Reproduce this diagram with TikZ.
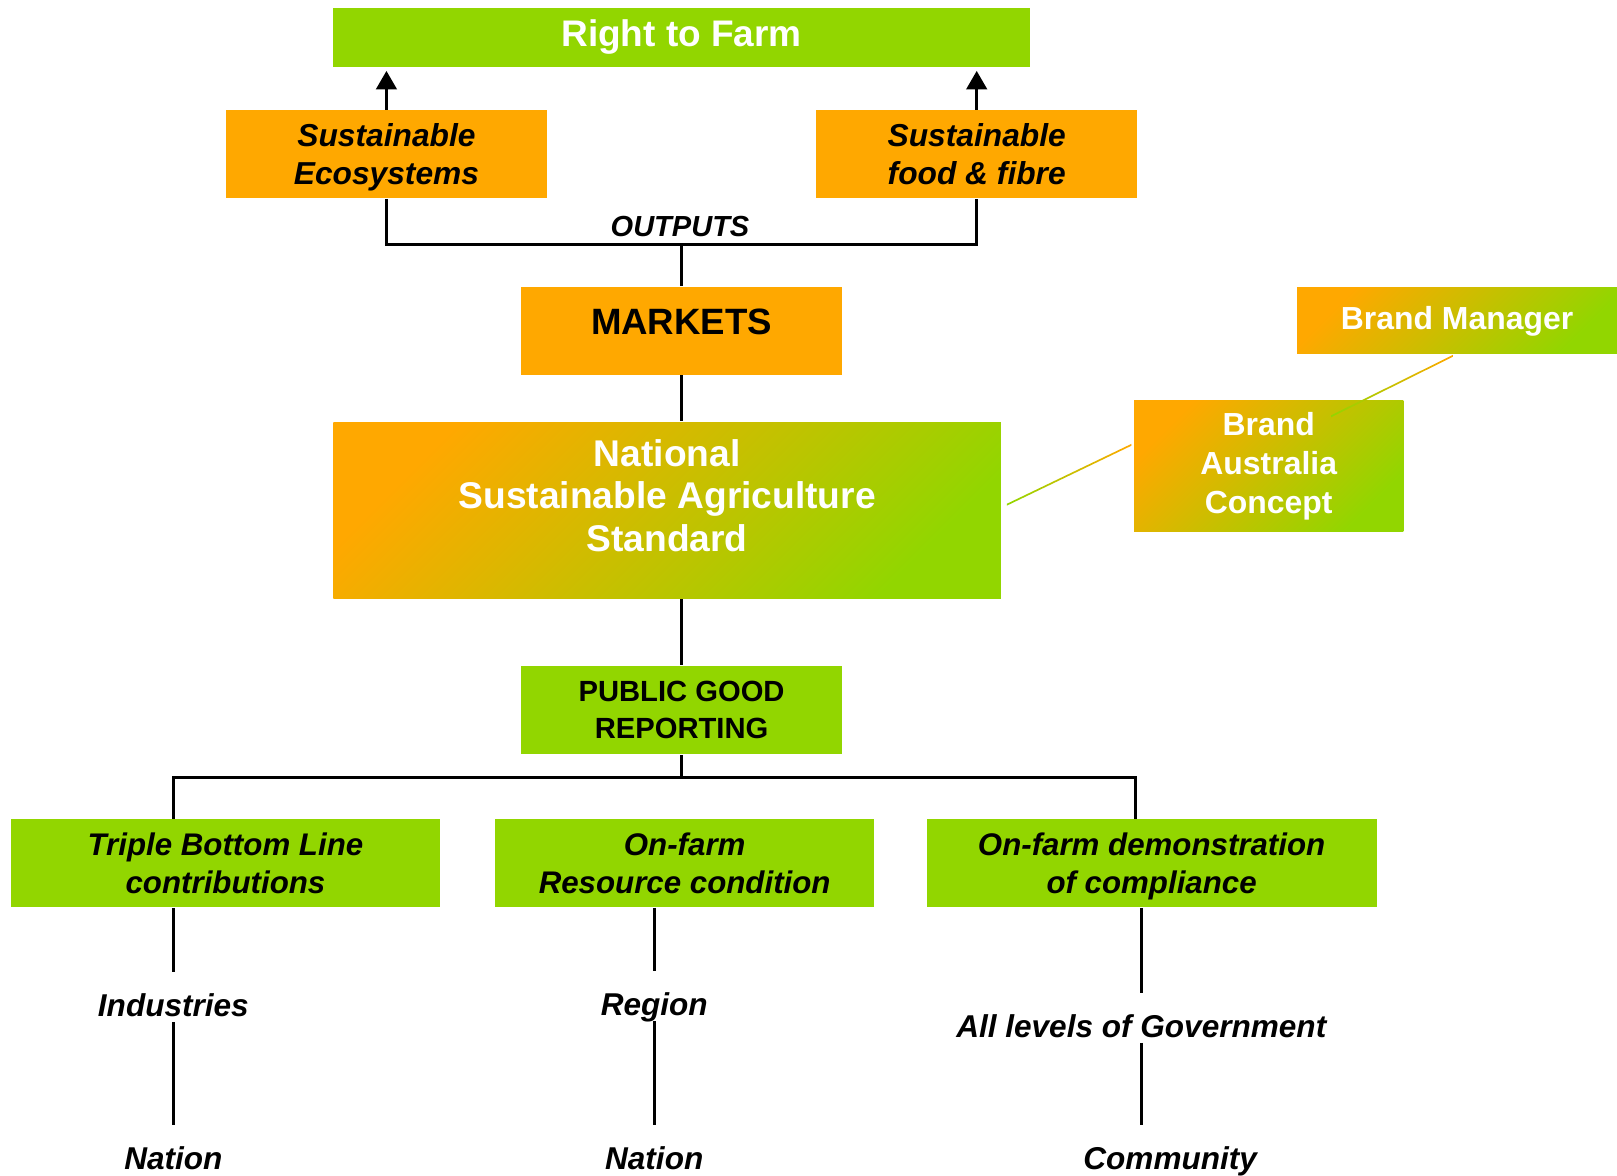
\documentclass[tikz,border=0pt]{standalone}
\usepackage{fontspec}
\setmainfont{Liberation Sans}
\usepackage{tikz}
\usetikzlibrary{arrows.meta, positioning, calc}
\definecolor{rtfgreen}{RGB}{146,214,0}
\definecolor{rtforange}{RGB}{255,168,0}

\begin{document}
\begin{tikzpicture}[
    greenbox/.style={rectangle, fill=rtfgreen, inner sep=0pt, text depth=0pt, align=center},
    orangebox/.style={rectangle, fill=rtforange, inner sep=0pt, text depth=0pt, align=center},
    blendbox/.style={rectangle, top color=rtforange, bottom color=rtfgreen, shading angle=45, inner sep=0pt, align=center, text=white},
    lvl/.style={inner sep=0pt, anchor=base, text height=0.42cm, text depth=0.05cm, font=\bfseries\itshape\fontsize{8.7}{10.5}\selectfont},
    link/.style={line width=0.8pt},
  ]
                \useasboundingbox (0,0) rectangle (15.67,-11.395);

                \node[greenbox, minimum width=6.75cm, minimum height=0.57cm, text=white, text depth=0.09cm, font=\bfseries\fontsize{10.2}{12}\selectfont] (farm) at (6.605,-0.365) {Right to Farm};
                \node[orangebox, minimum width=3.11cm, minimum height=0.85cm, font=\bfseries\itshape\fontsize{8.75}{10.5}\selectfont] (eco) at (3.745,-1.495) {Sustainable\\Ecosystems};
                \node[orangebox, minimum width=3.11cm, minimum height=0.85cm, font=\bfseries\itshape\fontsize{8.75}{10.5}\selectfont] (food) at (9.465,-1.495) {Sustainable\\food \& fibre};
                \coordinate (outbus) at (6.605,-2.37);
                \node[inner sep=0pt, anchor=base, font=\bfseries\itshape\fontsize{8}{9.6}\selectfont] (outputs) at (6.59,-2.29) {OUTPUTS};

                \node[orangebox, minimum width=3.11cm, minimum height=0.85cm, text depth=0.18cm, font=\bfseries\fontsize{10.1}{12}\selectfont] (markets) at (6.605,-3.205) {MARKETS};
                \node[blendbox, minimum width=6.47cm, minimum height=1.71cm, text depth=0.29cm, font=\bfseries\fontsize{10.25}{11.8}\selectfont] (nsas) at (6.465,-4.945) {National\\Sustainable Agriculture\\Standard};
                \node[greenbox, minimum width=3.11cm, minimum height=0.86cm, font=\bfseries\fontsize{8.05}{10.2}\selectfont] (pgr) at (6.605,-6.88) {PUBLIC GOOD\\REPORTING};

                \node[blendbox, minimum width=3.10cm, minimum height=0.64cm, font=\bfseries\fontsize{8.8}{10.8}\selectfont] (bm) at (14.12,-3.11) {Brand Manager};
                \node[blendbox, minimum width=2.61cm, minimum height=1.27cm, font=\bfseries\fontsize{8.8}{10.8}\selectfont] (ba) at (12.295,-4.515) {Brand\\Australia\\Concept};

                \node[greenbox, minimum width=4.15cm, minimum height=0.85cm, font=\bfseries\itshape\fontsize{8.62}{10.5}\selectfont] (tbl) at (2.185,-8.365) {Triple Bottom Line\\contributions};
                \node[greenbox, minimum width=3.67cm, minimum height=0.85cm, font=\bfseries\itshape\fontsize{8.62}{10.5}\selectfont] (rescond) at (6.635,-8.365) {On-farm\\Resource condition};
                \node[greenbox, minimum width=4.36cm, minimum height=0.85cm, font=\bfseries\itshape\fontsize{8.62}{10.5}\selectfont] (compl) at (11.16,-8.365) {On-farm demonstration\\of compliance};

                \node[lvl] (industries) at (1.68,-9.85) {Industries};
                \node[lvl] (nationa) at (1.68,-11.33) {Nation};
                \node[lvl] (region) at (6.34,-9.84) {Region};
                \node[lvl] (nationb) at (6.34,-11.33) {Nation};
                \node[lvl] (govt) at (11.06,-10.05) {All levels of Government};
                \node[lvl] (community) at (11.34,-11.33) {Community};

                \draw[link, -{Triangle[width=0.2cm, length=0.18cm]}] (eco.north) -- ([yshift=-0.03cm]eco.north |- farm.south);
                \draw[link, -{Triangle[width=0.2cm, length=0.18cm]}] (food.north) -- ([yshift=-0.03cm]food.north |- farm.south);
                \draw[link] (eco.south) |- (outbus) -| (food.south);
                \draw[link] (markets.north) -- (outbus);
                \draw[link] (markets.south) -- (markets.south |- nsas.north);
                \draw[link] (nsas.south -| pgr.north) -- (pgr.north);

                \coordinate (pgrbus) at ($(pgr.south)+(0,-0.22)$);
                \draw[link] (pgr.south) -- (pgrbus);
                \draw[link] (industries.north |- tbl.north) |- (pgrbus) -| ([xshift=-0.06cm]govt.north |- compl.north);

                \draw[link] (industries.north |- tbl.south) -- (industries.north);
                \draw[link] (industries.south) -- (nationa.north);
                \draw[link] (region.north |- rescond.south) -- (region.north);
                \draw[link] (region.south) -- (nationb.north);
                \draw[link] (govt.north |- compl.south) -- (govt.north);
                \draw[link] (govt.south) -- (govt.south |- community.north);

                \coordinate (lineaa) at ([shift={(0.05,0.045)}]nsas.east);
                \coordinate (lineab) at ([shift={(-0.02,0.195)}]ba.west);
                \coordinate (lineba) at ([shift={(0.605,-0.17)}]ba.north);
                \coordinate (linebb) at ([shift={(-0.04,-0.02)}]bm.south);
                \shade[left color=rtfgreen, right color=rtforange] (lineaa) -- (lineab) -- ([yshift=0.018cm]lineab) -- ([yshift=0.018cm]lineaa) -- cycle;
                \shade[left color=rtfgreen, right color=rtforange] (lineba) -- (linebb) -- ([yshift=0.018cm]linebb) -- ([yshift=0.018cm]lineba) -- cycle;
            \end{tikzpicture}
\end{document}
